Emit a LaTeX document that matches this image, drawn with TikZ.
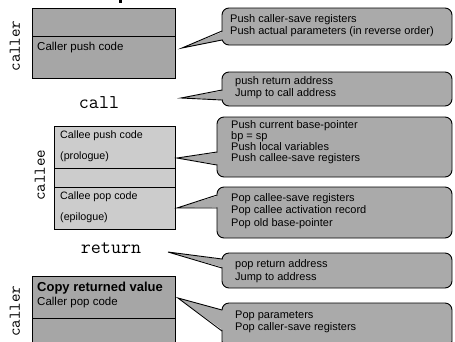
\documentclass[tikz,border=0pt]{standalone}
\usepackage{fontspec}
\setmainfont{Liberation Sans}
\definecolor{callerfill}{RGB}{166,166,166}
\definecolor{calleefill}{RGB}{204,204,204}
\definecolor{calloutfill}{RGB}{170,170,170}
\tikzset{
  boxline/.style={draw=black, line width=0.9pt},
  callerbox/.style={boxline, fill=callerfill},
  calleebox/.style={boxline, fill=calleefill},
  calloutbody/.style={draw=black, line width=0.9pt, fill=calloutfill, rounded corners=7pt},
  calloutline/.style={draw=black, line width=0.9pt, line join=miter},
  sidelabel/.style={font=\ttfamily\fontsize{16.5}{18}\selectfont, rotate=90, inner sep=0pt},
  kwlabel/.style={font=\ttfamily\fontsize{19.5}{21}\selectfont, inner sep=0pt},
  boxtext/.style={font=\fontsize{11.5}{13}\selectfont, anchor=west, inner sep=0pt},
  smalltext/.style={font=\fontsize{10.7}{12}\selectfont, anchor=west, inner sep=0pt},
  callouttext/.style={font=\fontsize{11}{12.3}\selectfont, anchor=west, align=left, inner sep=0pt},
}
\newcommand\drawcallout[8]{%
  \filldraw[calloutbody] (#1,#2) rectangle (#3,#4);
  \fill[calloutfill] (#1+1.2,#5+0.6) -- (#7,#8) -- (#1+1.2,#6-0.6) -- cycle;
  \draw[calloutline] (#1,#5) -- (#7,#8) -- (#1,#6);
}
\begin{document}
\begin{tikzpicture}[x=1pt,y=-1pt]
\useasboundingbox (0,0) rectangle (455,341);
\fill[white] (0,0) rectangle (455,341);
% fragment of cut-off title
\fill[black] (118.5,0) rectangle (121.5,3);

% caller (top)
\draw[callerbox] (32,8) rectangle (175,78);
\draw[boxline] (32,36) -- (175,36);
\node[boxtext] (callerpush) at (37,48) {Caller push code};
\node[sidelabel] (caller1) at (15,46) {caller};

\node[kwlabel] (call) at (99,103) {call};

% callee
\draw[calleebox] (54,126) rectangle (175,229);
\draw[boxline] (54,168) -- (175,168);
\draw[boxline] (54,187) -- (175,187);
\node[smalltext] (calleepush) at (60,136) {Callee push code};
\node[smalltext] (prologue) at (60,157) {(prologue)};
\node[smalltext] (calleepop) at (60,197) {Callee pop code};
\node[smalltext] (epilogue) at (60,218) {(epilogue)};
\node[sidelabel] (callee) at (40,175) {callee};

\node[kwlabel] (return) at (111,248) {return};

% caller (bottom)
\draw[callerbox] (32,276) rectangle (175,346);
\draw[boxline] (32,318) -- (175,318);
\node[boxtext, font=\bfseries\fontsize{13}{14}\selectfont] (copyret) at (37,288) {Copy returned value};
\node[boxtext] (callerpop) at (37,303) {Caller pop code};
\node[sidelabel] (caller2) at (15,311) {caller};

% callouts
\drawcallout{222}{8}{452}{45}{31}{40}{182}{48}
\node[callouttext] (c1) at (230,26) {Push caller-save registers\\Push actual parameters (in reverse order)};

\drawcallout{222}{72}{452}{106}{90}{100}{181}{98}
\node[callouttext] (c2) at (235,88) {push return address\\Jump to call address};

\drawcallout{217}{117}{452}{177}{152}{165}{177}{158}
\node[callouttext, font=\fontsize{11}{11}\selectfont] (c3) at (231,142) {Push current base-pointer\\bp = sp\\Push local variables\\Push callee-save registers};

\drawcallout{217}{187}{452}{238}{195}{208}{177}{208}
\node[callouttext] (c4) at (231,211) {Pop callee-save registers\\Pop callee activation record\\Pop old base-pointer};

\drawcallout{222}{253}{452}{288}{259}{268}{168}{252}
\node[callouttext] (c5) at (235,271) {pop return address\\Jump to address};

\drawcallout{222}{303}{452}{348}{310}{331}{178}{298}
\node[callouttext] (c6) at (235,322) {Pop parameters\\Pop caller-save registers};
\end{tikzpicture}
\end{document}
